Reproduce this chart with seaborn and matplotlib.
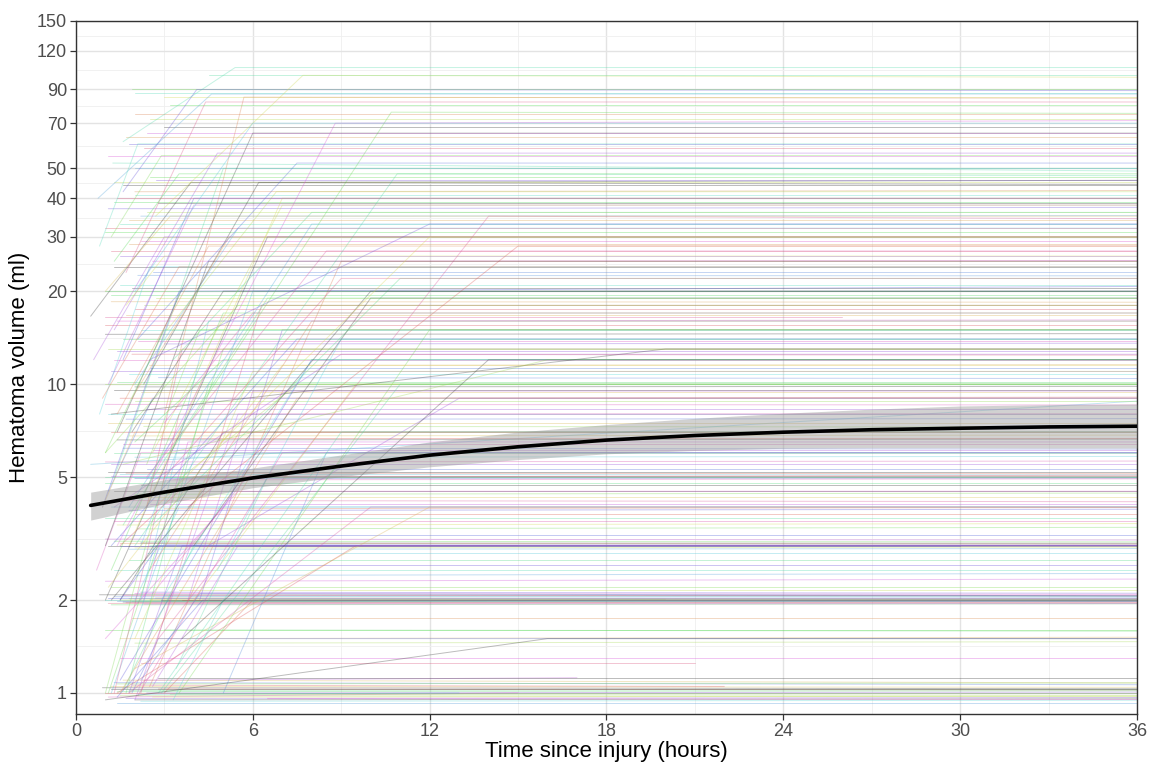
import math

import numpy as np
import pandas as pd
import matplotlib
matplotlib.use("Agg")
import matplotlib.pyplot as plt
import seaborn as sns
from matplotlib.ticker import FixedLocator, NullFormatter

# patients with stable volume: first scan and last scan
stable_t0 = [1.0, 1.2, 1.5, 1.8, 2.0, 1.3, 2.4, 1.1, 2.8, 1.6,
             3.2, 1.4, 2.2, 0.9, 1.7, 6.5, 1.9, 1.5, 2.0, 3.0,
             1.0, 1.3, 1.6, 2.0, 1.1, 2.5, 1.8, 1.2, 3.0, 1.4,
             2.2, 0.8, 1.7, 2.7, 1.5, 1.9, 1.3, 2.0, 2.6, 1.0,
             1.1, 1.5, 2.0, 1.3, 2.5, 1.8, 3.0, 1.0, 4.2, 2.2,
             1.4, 2.1, 1.0, 1.2, 1.8, 2.5, 1.5, 3.0, 1.3, 2.0,
             1.0, 1.5, 2.0, 1.2, 2.8, 1.7, 3.5, 1.1, 1.3, 2.0,
             1.6, 2.6, 1.0, 1.2, 1.8, 2.3, 1.4, 1.1, 1.7, 2.4,
             1.0, 1.5, 2.2, 1.0, 1.4, 2.0, 2.8, 1.2, 1.3, 1.9,
             2.5, 1.1, 1.6, 2.2, 1.0, 3.0, 1.4, 2.0, 1.2, 2.7,
             1.0, 1.5, 2.1, 1.3, 2.6, 1.2, 1.8, 2.4, 1.0, 1.5,
             2.2, 1.1, 2.8, 1.4, 2.0, 1.3, 2.5, 1.25, 2.0, 1.8,
             2.4, 3.0, 2.0, 3.0, 1.9, 4.5, 0.5, 1.5, 2.3, 1.0,
             1.2, 2.6, 1.4, 3.4, 2.1, 1.1, 2.3, 1.6, 3.6, 2.9,
             1.2, 1.8, 2.4, 1.5, 2.7, 1.3, 2.0, 1.7, 2.2, 1.0,
             1.9, 2.4, 1.2, 1.6, 2.9, 1.1, 2.0, 1.3, 1.8, 2.5,
             1.4, 2.1, 1.0, 1.7, 2.3, 1.2, 1.9, 2.6, 1.5, 2.2,
             1.0, 1.8, 2.4, 1.3, 2.0, 1.6, 2.7, 1.1, 2.3, 1.7,
             2.5, 3.2, 2.0, 1.4, 2.8, 1.5, 2.2, 1.9, 3.5, 1.0]
stable_v0 = [1.00, 1.05, 0.98, 1.02, 0.95, 1.08, 1.00, 0.97, 1.03, 1.10,
             0.99, 1.01, 0.94, 1.04, 0.96, 0.96, 1.06, 1.50, 1.45, 1.60,
             2.00, 2.05, 1.97, 2.10, 1.95, 2.00, 2.02, 1.93, 2.06, 1.99,
             2.12, 2.08, 1.96, 2.03, 2.00, 1.98, 2.50, 2.40, 2.60, 2.30,
             3.00, 3.05, 2.95, 3.10, 3.00, 2.92, 3.02, 3.15, 2.98, 3.06,
             3.50, 3.40, 3.70, 4.00, 3.90, 4.10, 4.20, 3.95, 4.50, 4.40,
             5.00, 5.10, 4.95, 5.05, 4.90, 5.15, 5.00, 5.20, 6.00, 5.80,
             6.20, 6.10, 5.60, 7.00, 6.80, 7.30, 6.60, 8.00, 7.70, 8.30,
             8.60, 9.00, 9.40, 10.0, 10.2, 9.8, 10.5, 11.0, 12.0, 12.5,
             11.5, 13.0, 14.0, 15.0, 14.5, 13.5, 16.0, 17.5, 18.5, 19.0,
             20.0, 21.0, 22.5, 24.0, 25.0, 27.0, 28.5, 30.0, 31.0, 33.0,
             35.0, 37.0, 38.5, 40.0, 42.0, 45.0, 47.0, 52.0, 50.0, 60.0,
             65.0, 68.0, 75.0, 85.0, 90.0, 100.0, 5.5, 3.0, 1.10, 16.5,
             1.03, 0.97, 1.07, 1.00, 0.99, 2.03, 1.94, 2.07, 2.00, 1.99,
             2.20, 2.70, 2.85, 3.25, 3.00, 3.60, 3.80, 4.30, 4.70, 4.80,
             5.00, 5.30, 5.50, 6.40, 6.70, 7.50, 8.80, 9.60, 10.8, 11.3,
             12.8, 13.8, 15.5, 16.8, 18.0, 19.5, 20.5, 23.0, 26.0, 29.0,
             32.0, 34.0, 36.0, 39.0, 41.0, 44.0, 46.0, 55.0, 58.0, 63.0,
             72.0, 80.0, 88.0, 0.93, 1.12, 1.30, 1.25, 1.75, 2.15, 1.60]
stable_t1 = [48, 50, 46, 52, 48, 44, 50, 15, 47, 49,
             45, 51, 48, 46, 53, 48, 22, 48, 44, 50,
             48, 46, 50, 48, 52, 47, 45, 49, 51, 48,
             44, 50, 46, 53, 20, 48, 48, 46, 50, 47,
             48, 50, 46, 48, 52, 44, 49, 47, 15, 51,
             48, 46, 50, 48, 50, 46, 49, 47, 48, 45,
             48, 50, 46, 49, 48, 52, 44, 47, 48, 50,
             46, 48, 49, 48, 46, 50, 47, 48, 50, 46,
             49, 48, 47, 48, 50, 46, 49, 48, 48, 46,
             50, 48, 50, 47, 46, 49, 48, 50, 46, 48,
             48, 46, 50, 47, 49, 48, 46, 50, 48, 47,
             50, 48, 46, 48, 47, 50, 48, 48, 46, 48,
             50, 47, 48, 50, 48, 48, 44, 30, 17, 26,
             48, 50, 46, 48, 13, 48, 50, 46, 48, 47,
             48, 50, 46, 48, 50, 47, 48, 50, 46, 48,
             47, 49, 48, 50, 46, 48, 47, 50, 48, 46,
             48, 50, 47, 48, 49, 46, 48, 50, 47, 48,
             46, 50, 48, 47, 48, 50, 48, 47, 48, 50,
             48, 47, 48, 48, 48, 48, 21, 48, 48, 48]
stable_v1 = [1.00, 1.04, 0.97, 1.03, 0.96, 1.06, 1.01, 1.00, 1.02, 1.07,
             0.98, 1.02, 0.95, 1.03, 0.97, 0.95, 1.05, 1.52, 1.47, 1.58,
             2.00, 2.04, 1.98, 2.08, 1.96, 2.02, 2.00, 1.95, 2.05, 1.99,
             2.10, 2.06, 1.97, 2.01, 2.01, 2.00, 2.50, 2.45, 2.60, 2.35,
             3.00, 3.03, 2.97, 3.08, 3.01, 2.94, 3.00, 3.12, 3.00, 3.05,
             3.55, 3.45, 3.70, 4.02, 3.95, 4.10, 4.15, 4.00, 4.50, 4.45,
             5.00, 5.08, 4.97, 5.05, 4.95, 5.12, 5.02, 5.20, 6.00, 5.85,
             6.15, 6.10, 5.65, 7.00, 6.85, 7.25, 6.65, 8.00, 7.75, 8.30,
             8.55, 9.10, 9.40, 10.0, 10.2, 9.85, 10.4, 11.0, 12.0, 12.4,
             11.6, 13.0, 14.0, 15.0, 14.6, 13.6, 16.2, 17.5, 18.4, 19.0,
             20.0, 21.0, 22.4, 24.0, 25.2, 27.0, 28.5, 30.0, 31.0, 33.0,
             35.2, 37.5, 38.5, 40.0, 42.5, 45.0, 47.0, 48.0, 50.0, 60.0,
             65.0, 68.0, 75.0, 85.0, 90.0, 100.0, 9.8, 3.0, 1.12, 16.5,
             1.03, 0.98, 1.08, 1.00, 1.00, 2.03, 1.95, 2.06, 2.00, 2.00,
             2.20, 2.70, 2.85, 3.25, 3.02, 3.60, 3.80, 4.30, 4.70, 4.80,
             5.00, 5.30, 5.50, 6.40, 6.70, 7.50, 8.80, 9.60, 10.8, 11.3,
             12.8, 13.8, 15.5, 16.8, 18.0, 19.5, 20.5, 23.0, 26.0, 29.0,
             32.0, 34.0, 36.0, 39.0, 41.0, 44.0, 46.0, 55.0, 58.0, 63.0,
             72.0, 80.0, 88.0, 0.93, 1.12, 1.30, 1.25, 1.75, 2.15, 1.60]

# patients with growth: first scan, follow-up scan, last scan
grow_t0 = [1.6, 0.75, 1.6, 0.5, 1.7, 3.0, 2.7, 3.2, 2.0, 1.2,
           1.5, 2.0, 1.0, 2.5, 1.8, 3.5, 1.3, 2.2, 0.9, 1.1,
           2.8, 1.4, 4.0, 1.0, 1.6, 2.0, 1.2, 0.6, 2.4, 3.0,
           1.5, 1.0, 2.6, 0.8, 1.9, 1.3, 2.1, 3.8, 1.0, 2.3,
           1.7, 2.9, 1.1, 4.5, 0.7, 1.4, 2.0, 1.6, 1.2, 3.3,
           2.2, 1.8, 2.6, 1.5, 0.9, 3.6, 2.0, 1.2, 5.0, 4.2,
           1.0, 2.4, 1.9, 3.1, 1.3, 0.8, 1.0, 2.5, 1.4, 2.2,
           1.5, 2.0, 1.2, 2.8, 1.8, 1.0, 2.3, 3.0, 1.4, 2.6,
           1.1, 3.4, 2.0, 1.6, 4.0, 1.3, 2.5, 1.7, 1.0, 2.9,
           2.2, 1.5, 3.8, 1.9, 0.9, 2.7, 1.2, 3.3, 2.0, 1.4,
           2.6, 1.8, 3.6, 1.1, 2.4, 1.6, 4.8, 2.1, 1.3, 3.0]
grow_v0 = [61, 40, 42, 16.6, 23, 8.0, 35, 6.0, 3.0, 1.0,
           1.1, 0.95, 2.0, 1.05, 3.0, 1.0, 5.0, 2.0, 4.0, 10.0,
           1.5, 7.0, 2.0, 1.0, 1.02, 2.0, 3.0, 12, 5.0, 1.0,
           2.0, 6.0, 3.5, 8.0, 1.0, 15, 0.98, 4.0, 20, 10,
           1.0, 2.0, 4.5, 3.0, 2.5, 1.0, 1.2, 5.5, 8.0, 0.95,
           1.1, 1.0, 2.1, 3.0, 4.0, 5.0, 6.5, 2.0, 1.0, 2.0,
           1.5, 4.0, 9.0, 15, 25, 28, 0.95, 12, 3.0, 1.0,
           1.0, 1.5, 2.5, 1.0, 4.0, 3.0, 2.0, 5.0, 8.0, 6.0,
           1.0, 1.2, 10, 12, 3.0, 1.0, 2.5, 18, 6.0, 1.0,
           3.0, 2.0, 2.0, 7.0, 9.0, 4.0, 30, 12, 20, 0.97,
           1.05, 1.0, 1.5, 2.2, 5.5, 3.5, 2.5, 14, 4.0, 7.5]
grow_t1 = [5.4, 4.6, 4.1, 3.9, 4.4, 5.7, 7.7, 10.7, 10.9, 6.0,
           8.0, 5.5, 6.5, 9.0, 7.0, 12.0, 5.0, 4.5, 3.5, 4.0,
           14.0, 6.0, 9.5, 3.0, 4.0, 3.5, 7.5, 3.0, 8.5, 6.0,
           5.0, 5.5, 11.0, 2.5, 2.8, 4.8, 7.0, 15.0, 3.2, 6.2,
           4.5, 8.0, 2.6, 13.0, 2.2, 9.5, 12.0, 16.0, 20.0, 5.0,
           4.2, 3.6, 5.8, 4.0, 2.0, 7.5, 5.0, 10.0, 8.5, 7.0,
           5.5, 3.6, 5.2, 6.8, 3.5, 2.1, 16.0, 12.0, 8.8, 6.3,
           7.5, 6.0, 5.0, 9.0, 8.0, 4.5, 3.8, 9.0, 4.5, 7.0,
           5.0, 6.5, 5.5, 4.0, 10.0, 3.5, 8.0, 3.0, 3.0, 11.0,
           3.4, 2.8, 6.0, 5.0, 3.5, 12.0, 2.9, 8.0, 6.0, 4.3,
           5.5, 10.0, 14.0, 7.0, 4.2, 6.5, 9.0, 7.5, 9.0, 6.0]
grow_v1 = [106, 87, 90, 45, 82, 85, 100, 76, 48, 20,
           12, 8.0, 30, 25, 40, 15, 50, 16, 20, 38,
           35, 65, 10, 5.0, 3.0, 4.0, 14, 30, 27, 2.0,
           7.0, 18, 22, 24, 1.5, 56, 6.0, 28, 35, 45,
           10, 12, 9.0, 9.0, 6.0, 3.0, 4.0, 12, 13, 2.0,
           2.1, 3.0, 5.0, 5.0, 7.0, 10, 12, 20, 6.0, 15,
           4.5, 13, 30, 42, 48, 60, 1.5, 33, 70, 18,
           9.0, 11, 17, 7.0, 33, 25, 6.5, 22, 28, 38,
           13, 5.0, 32, 40, 19, 8.0, 16, 26, 15, 10,
           6.0, 3.0, 9.5, 20, 24, 30, 55, 36, 70, 2.0,
           3.0, 4.0, 12, 11.5, 15, 19, 14, 52, 12.5, 17]
grow_t2 = [48] * len(grow_t0)
grow_v2 = [106, 87, 89, 46, 82, 84, 98, 75, 47, 20,
           12, 8.0, 30, 25, 40, 15, 50, 16, 21, 38,
           34, 65, 10, 5.0, 3.0, 4.0, 14, 30, 27, 2.0,
           7.0, 18, 22, 24, 1.5, 56, 6.0, 28, 35, 44,
           10, 12, 9.0, 9.0, 6.0, 3.0, 4.0, 12, 13, 2.0,
           2.05, 3.0, 5.0, 5.1, 7.0, 10, 12, 20, 6.0, 15,
           4.5, 13, 30, 42, 48, 60, 1.5, 33, 72, 18,
           9.0, 11, 17, 7.0, 33, 25, 6.5, 22, 28, 38,
           13, 5.0, 32, 40, 19, 8.0, 16, 26, 15, 10,
           6.0, 3.0, 9.5, 20, 24, 30, 55, 36, 70, 2.0,
           3.0, 4.0, 12, 11.5, 15, 19, 14, 52, 12.5, 17]

# fitted mean trajectory with 95% band
mean_time = [0.5, 3, 6, 9, 12, 15, 18, 21, 24, 27, 30, 33, 36]
mean_vol = [4.05, 4.47, 4.97, 5.43, 5.89, 6.27, 6.59, 6.82, 6.99, 7.12, 7.20, 7.27, 7.31]
ci_low = [3.63, 4.10, 4.62, 5.02, 5.40, 5.70, 5.95, 6.10, 6.20, 6.22, 6.22, 6.21, 6.21]
ci_high = [4.47, 4.90, 5.35, 5.90, 6.50, 7.00, 7.40, 7.75, 8.05, 8.30, 8.50, 8.58, 8.62]

x_ticks = [0, 6, 12, 18, 24, 30, 36]
y_ticks = [1, 2, 5, 10, 20, 30, 40, 50, 70, 90, 120, 150]


def build_long():
    rows = []
    for i, (a, b, c, d) in enumerate(zip(stable_t0, stable_v0, stable_t1, stable_v1)):
        rows += [(f"s{i}", a, b), (f"s{i}", c, d)]
    for i, pts in enumerate(zip(grow_t0, grow_v0, grow_t1, grow_v1, grow_t2, grow_v2)):
        pid = f"g{i}"
        rows += [(pid, pts[0], pts[1]), (pid, pts[2], pts[3]), (pid, pts[4], pts[5])]
    return pd.DataFrame(rows, columns=["id", "time", "volume"])


def make_palette(ids):
    n = len(ids)
    base = sns.color_palette("hls", n)
    step = 37
    while math.gcd(step, n) != 1:
        step += 1
    pal = {}
    for k, pid in enumerate(ids):
        pal[pid] = (0.25, 0.25, 0.25) if k % 9 == 4 else base[(k * step) % n]
    return pal


def main():
    sns.set_theme(style="white")
    plt.rcParams["font.family"] = ["Liberation Sans", "DejaVu Sans"]

    df = build_long()
    ids = list(dict.fromkeys(df["id"]))
    pal = make_palette(ids)

    fig = plt.figure(figsize=(11.49, 7.66), dpi=100)
    ax = fig.add_axes([0.0661, 0.0679, 0.9234, 0.9047])

    sns.lineplot(data=df, x="time", y="volume", hue="id", units="id",
                 estimator=None, palette=pal, legend=False,
                 linewidth=0.7, alpha=0.35, ax=ax)

    ax.fill_between(mean_time, ci_low, ci_high, color="0.6", alpha=0.45,
                    linewidth=0, zorder=3)
    sns.lineplot(x=mean_time, y=mean_vol, color="black", linewidth=2.6,
                 ax=ax, zorder=4)

    ax.set_yscale("log")
    ax.set_xlim(0, 36)
    ax.set_ylim(0.855, 150)
    ax.set_xticks(x_ticks)
    ax.set_xticklabels([str(v) for v in x_ticks])
    ax.xaxis.set_minor_locator(FixedLocator([3, 9, 15, 21, 27, 33]))
    ax.yaxis.set_major_locator(FixedLocator(y_ticks))
    ax.set_yticklabels([str(v) for v in y_ticks])
    mids = [math.sqrt(a * b) for a, b in zip(y_ticks[:-1], y_ticks[1:])]
    ax.yaxis.set_minor_locator(FixedLocator(mids))
    ax.yaxis.set_minor_formatter(NullFormatter())

    ax.set_axisbelow(True)
    ax.grid(which="major", color="#E3E3E3", linewidth=1.0)
    ax.grid(which="minor", color="#EFEFEF", linewidth=0.6)
    for s in ax.spines.values():
        s.set_color("#333333")
        s.set_linewidth(1.0)
    ax.tick_params(which="major", direction="out", length=4.5, width=0.9,
                   color="#333333", labelcolor="#4D4D4D", labelsize=13, pad=2,
                   left=True, bottom=True)
    ax.tick_params(which="minor", length=0)

    ax.set_xlabel("Time since injury (hours)", fontsize=16, color="black", labelpad=1)
    ax.set_ylabel("Hematoma volume (ml)", fontsize=16, color="black", labelpad=5)

    fig.savefig("out.png", dpi=100)


if __name__ == "__main__":
    main()
